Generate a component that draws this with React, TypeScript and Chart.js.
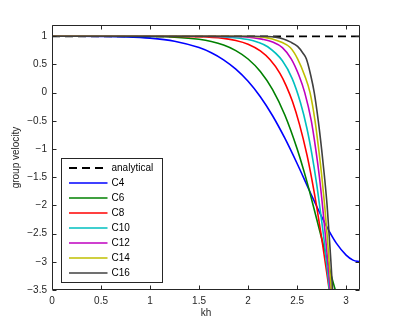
import React, { useEffect, useRef } from 'react';
import { Chart, registerables } from 'chart.js';

Chart.register(...registerables);

// ---- data ----
const xTicks = [0, 0.5, 1, 1.5, 2, 2.5, 3];
const yTicks = [-3.5, -3, -2.5, -2, -1.5, -1, -0.5, 0, 0.5, 1];
const xMin = 0;
const xMax = 3.1416;
const yMin = -3.5;
const yMax = 1.2;

const seriesLabels = ['analytical', 'C4', 'C6', 'C8', 'C10', 'C12', 'C14', 'C16'];

const analyticalX = [0, 3.1416];
const analyticalY = [1, 1];

const c4X = [0, 0.25, 0.5, 0.75, 1.0, 1.25, 1.5, 1.625, 1.75, 1.875, 2.0, 2.125, 2.25, 2.375, 2.5, 2.625, 2.75, 2.825, 2.9, 3.0, 3.07, 3.1416];
const c4Y = [1, 1.0, 0.998, 0.99, 0.967, 0.913, 0.799, 0.707, 0.582, 0.416, 0.201, -0.072, -0.409, -0.808, -1.257, -1.735, -2.2, -2.452, -2.669, -2.882, -2.97, -3.0];

const c6X = [0, 0.5, 1.0, 1.25, 1.5, 1.625, 1.75, 1.875, 2.0, 2.125, 2.25, 2.375, 2.5, 2.575, 2.625, 2.75, 2.85, 2.9, 2.95];
const c6Y = [1, 1.0, 0.996, 0.984, 0.946, 0.907, 0.844, 0.746, 0.597, 0.375, 0.054, -0.396, -0.994, -1.423, -1.738, -2.583, -3.254, -3.56, -3.829];

const c8X = [0, 1.0, 1.5, 1.75, 1.875, 2.0, 2.125, 2.225, 2.325, 2.39, 2.453, 2.525, 2.6, 2.65, 2.701, 2.75, 2.825, 2.85];
const c8Y = [1, 1.0, 0.991, 0.962, 0.925, 0.859, 0.74, 0.582, 0.343, 0.117, -0.158, -0.567, -1.1, -1.533, -2.036, -2.569, -3.466, -3.769];

const c10X = [0, 1.5, 1.8, 2.0, 2.1, 2.2, 2.35, 2.45, 2.534, 2.6, 2.65, 2.7, 2.74, 2.775, 2.82, 2.85];
const c10Y = [1, 1.0, 0.984, 0.943, 0.896, 0.814, 0.565, 0.249, -0.175, -0.631, -1.081, -1.626, -2.138, -2.613, -3.336, -3.855];

const c12X = [0, 1.6, 1.9, 2.05, 2.14, 2.25, 2.35, 2.44, 2.52, 2.578, 2.645, 2.69, 2.728, 2.759, 2.787, 2.813, 2.838, 2.862];
const c12Y = [1, 1.0, 0.995, 0.975, 0.95, 0.9, 0.8, 0.6, 0.3, 0, -0.5, -1.0, -1.5, -2, -2.5, -3, -3.5, -4];

const c14X = [0, 1.8, 2.05, 2.17, 2.25, 2.335, 2.43, 2.505, 2.578, 2.632, 2.683, 2.72, 2.753, 2.781, 2.805, 2.827, 2.849, 2.869];
const c14Y = [1, 1.0, 0.995, 0.98, 0.95, 0.9, 0.8, 0.6, 0.3, 0, -0.5, -1.0, -1.5, -2, -2.5, -3, -3.5, -4];

const c16X = [0, 2.0, 2.2, 2.28, 2.36, 2.43, 2.505, 2.56, 2.594, 2.64, 2.675, 2.716, 2.75, 2.78, 2.806, 2.826, 2.845, 2.862, 2.88];
const c16Y = [1, 1.0, 0.997, 0.985, 0.953, 0.9, 0.82, 0.7, 0.6, 0.3, 0, -0.5, -1.0, -1.5, -2, -2.5, -3, -3.5, -4];

const seriesX = [analyticalX, c4X, c6X, c8X, c10X, c12X, c14X, c16X];
const seriesY = [analyticalY, c4Y, c6Y, c8Y, c10Y, c12Y, c14Y, c16Y];

// ---- styles ----
const seriesColors = ['#000000', '#0000ff', '#008000', '#ff0000', '#00bfbf', '#bf00bf', '#bfbf00', '#404040'];
const axisColor = '#262626';
const fontFamily = '"Liberation Sans", Arial, Helvetica, sans-serif';

const fmt = (v: number) => (v < 0 ? '\u2212' + String(Math.abs(v)) : String(v));

const boxPlugin = {
  id: 'matlabBox',
  afterDatasetsDraw(chart: any) {
    const { ctx, chartArea, scales } = chart;
    const l = Math.round(chartArea.left) + 0.5;
    const r = Math.round(chartArea.right) - 0.5;
    const t = Math.round(chartArea.top) + 0.5;
    const b = Math.round(chartArea.bottom) - 0.5;
    ctx.save();
    ctx.strokeStyle = axisColor;
    ctx.lineWidth = 1;
    ctx.setLineDash([]);
    ctx.beginPath();
    ctx.rect(l, t, r - l, b - t);
    const tl = 4;
    xTicks.forEach((v) => {
      const p = Math.round(scales.x.getPixelForValue(v)) + 0.5;
      ctx.moveTo(p, b);
      ctx.lineTo(p, b - tl);
      ctx.moveTo(p, t);
      ctx.lineTo(p, t + tl);
    });
    yTicks.forEach((v) => {
      const p = Math.round(scales.y.getPixelForValue(v)) + 0.5;
      ctx.moveTo(l, p);
      ctx.lineTo(l + tl, p);
      ctx.moveTo(r, p);
      ctx.lineTo(r - tl, p);
    });
    ctx.stroke();
    ctx.restore();
  },
};

const legendPlugin = {
  id: 'insideLegend',
  afterDraw(chart: any) {
    const { ctx, chartArea } = chart;
    const w = 101;
    const h = 124;
    const x0 = Math.round(chartArea.left) + 9 + 0.5;
    const y0 = Math.round(chartArea.bottom) - 8 - h + 0.5;
    ctx.save();
    ctx.fillStyle = '#ffffff';
    ctx.fillRect(x0, y0, w, h);
    ctx.strokeStyle = axisColor;
    ctx.lineWidth = 1;
    ctx.setLineDash([]);
    ctx.strokeRect(x0, y0, w, h);
    chart.data.datasets.forEach((ds: any, i: number) => {
      const cy = y0 + 9.5 + i * 15;
      ctx.beginPath();
      ctx.strokeStyle = ds.borderColor;
      ctx.lineWidth = ds.borderWidth;
      ctx.setLineDash(ds.borderDash || []);
      ctx.moveTo(x0 + 7.5, cy);
      ctx.lineTo(x0 + 46, cy);
      ctx.stroke();
      ctx.setLineDash([]);
      ctx.fillStyle = '#000000';
      ctx.font = `10px ${fontFamily}`;
      ctx.textAlign = 'left';
      ctx.textBaseline = 'middle';
      ctx.fillText(ds.label, x0 + 50, cy);
    });
    ctx.restore();
  },
};

export default function App() {
  const canvasRef = useRef<HTMLCanvasElement | null>(null);

  useEffect(() => {
    if (!canvasRef.current) return;
    const datasets = seriesLabels.map((label, i) => ({
      label,
      data: seriesX[i].map((x, j) => ({ x, y: seriesY[i][j] })),
      borderColor: seriesColors[i],
      backgroundColor: seriesColors[i],
      borderWidth: i === 0 ? 1.8 : 1.6,
      borderDash: i === 0 ? [8, 5] : [],
      pointRadius: 0,
      fill: false,
      cubicInterpolationMode: 'monotone' as const,
      clip: 0,
      order: 10 - i,
    }));

    const chart = new Chart(canvasRef.current, {
      type: 'line',
      data: { datasets },
      plugins: [boxPlugin, legendPlugin],
      options: {
        responsive: false,
        animation: false,
        devicePixelRatio: 1,
        layout: { padding: { left: 0, right: 37, top: 25, bottom: 0 } },
        plugins: { legend: { display: false }, tooltip: { enabled: false } },
        scales: {
          x: {
            type: 'linear',
            min: xMin,
            max: xMax,
            grid: { display: false, drawTicks: false },
            border: { display: false },
            afterBuildTicks: (s: any) => {
              s.ticks = xTicks.map((v) => ({ value: v }));
            },
            afterFit: (s: any) => {
              s.height = 37;
            },
            ticks: {
              padding: 5,
              color: axisColor,
              autoSkip: false,
              maxRotation: 0,
              font: { family: fontFamily, size: 10 },
              callback: (v: any) => fmt(Number(v)),
            },
            title: {
              display: true,
              text: 'kh',
              color: axisColor,
              font: { family: fontFamily, size: 10 },
              padding: { top: 0, bottom: 8 },
            },
          },
          y: {
            type: 'linear',
            min: yMin,
            max: yMax,
            grid: { display: false, drawTicks: false },
            border: { display: false },
            afterBuildTicks: (s: any) => {
              s.ticks = yTicks.map((v) => ({ value: v }));
            },
            afterFit: (s: any) => {
              s.width = 52;
            },
            ticks: {
              padding: 5,
              color: axisColor,
              autoSkip: false,
              font: { family: fontFamily, size: 10 },
              callback: (v: any) => fmt(Number(v)),
            },
            title: {
              display: true,
              text: 'group velocity',
              color: axisColor,
              font: { family: fontFamily, size: 10 },
              padding: { top: 10, bottom: 0 },
            },
          },
        },
      },
    } as any);

    return () => {
      chart.destroy();
    };
  }, []);

  return (
    <div style={{ position: 'fixed', left: 0, top: 0, width: 397, height: 327, background: '#ffffff' }}>
      <canvas ref={canvasRef} width={397} height={327} style={{ display: 'block' }} />
    </div>
  );
}
